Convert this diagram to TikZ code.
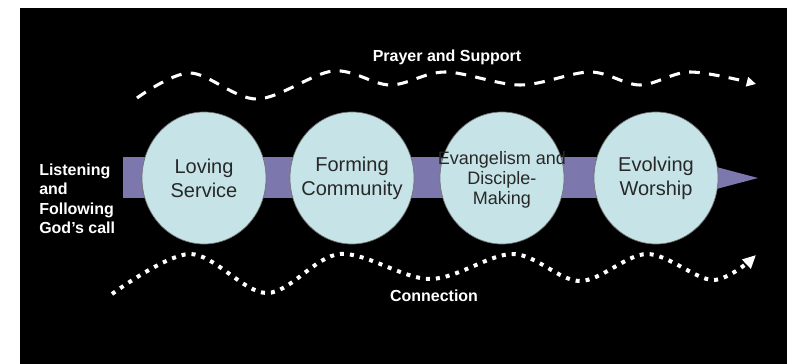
\documentclass[tikz,border=0pt]{standalone}
\usepackage{fontspec}
\setmainfont{Liberation Sans}
\usetikzlibrary{shapes.geometric,arrows.meta}
\definecolor{circfill}{RGB}{198,228,231}
\definecolor{barfill}{RGB}{124,119,172}
\definecolor{stagetext}{RGB}{40,40,40}
\begin{document}
\begin{tikzpicture}[x=0.75pt,y=-0.75pt,
  stage/.style={ellipse, fill=circfill, draw=black!55, line width=0.5pt,
    minimum width=93pt, minimum height=99pt, inner sep=0pt},
  stagelabel/.style={align=center, text=stagetext, inner sep=0pt,
    font=\fontsize{15}{18}\selectfont},
  lbl/.style={text=white, inner sep=0pt, font=\bfseries\fontsize{12}{14.6}\selectfont},
  dashwave/.style={white, line width=2.3pt, dash pattern=on 8pt off 7pt},
  dotwave/.style={white, line width=3pt, dash pattern=on 3pt off 4.5pt},
]
\useasboundingbox (0,0) rectangle (793,364);
\fill[white] (0,0) rectangle (793,364);
\fill[black] (20,8) rectangle (787,364);
% process bar with arrow head
\fill[barfill] (123,157) rectangle (706,198);
\fill[barfill] (705,164) -- (758,178) -- (705,192) -- cycle;
% stages
\node[stage] (s1) at (204,178) {};
\node[stage] (s2) at (352,178) {};
\node[stage] (s3) at (502,178) {};
\node[stage] (s4) at (656,178) {};
\node[stagelabel] (t1) at (s1) {Loving\\Service};
\node[stagelabel] (t2) at (s2) {Forming\\Community};
\node[stagelabel, font=\fontsize{13.5}{15}\selectfont] (t3) at (502,180) {Evangelism and\\Disciple-\\Making};
\node[stagelabel] (t4) at (s4) {Evolving\\Worship};
% labels
\node[lbl] (prayer) at (447,57) {Prayer and Support};
\node[lbl] (conn) at (434,296) {Connection};
\node[lbl, align=left, anchor=west] (listen) at (39,199) {Listening\\and\\Following\\God’s call};
% waves
\draw[dashwave, -{Triangle[length=7pt,width=7pt]}] plot[smooth, tension=0.55] coordinates
  {(137,98) (190,73) (257,99) (333,71) (390,85) (445,72) (520,85) (590,72) (640,85) (690,72) (756,84)};
\draw[dotwave, -{Triangle[length=10pt,width=9pt]}] plot[smooth, tension=0.55] coordinates
  {(112,294) (190,254) (267,293) (340,254) (430,279) (513,254) (580,281) (647,254) (713,280) (756,255)};
\end{tikzpicture}
\end{document}
